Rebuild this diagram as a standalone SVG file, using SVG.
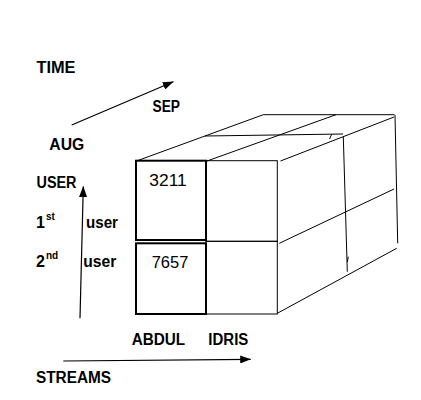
<svg xmlns="http://www.w3.org/2000/svg" width="421" height="400" viewBox="0 0 421 400">
<defs>
<marker id="ah" markerUnits="userSpaceOnUse" markerWidth="11" markerHeight="8" refX="10.5" refY="4" orient="auto">
<path d="M0,0 L11,4 L0,8 z" fill="#000"/>
</marker>
<style>
.lb{font-family:"Liberation Sans",Arial,sans-serif;font-weight:bold;font-size:16px;fill:#000}
.num{font-family:"Liberation Sans",Arial,sans-serif;font-size:16px;fill:#000}
.sup{font-size:10px}
.ln{stroke:#000;stroke-width:1;fill:none}
.bd{stroke:#000;stroke-width:2;fill:none}
.ax{stroke:#000;stroke-width:1.2;fill:none}
</style>
</defs>
<rect width="421" height="400" fill="#fff"/>
<g id="labels">
<text class="lb" x="36.5" y="73.3" textLength="39" lengthAdjust="spacingAndGlyphs">TIME</text>
<text class="lb" x="152.5" y="111.7" textLength="27.5" lengthAdjust="spacingAndGlyphs">SEP</text>
<text class="lb" x="49.3" y="150" textLength="35" lengthAdjust="spacingAndGlyphs">AUG</text>
<text class="lb" x="36.5" y="188.3" textLength="40" lengthAdjust="spacingAndGlyphs">USER</text>
<text class="lb" x="36" y="228.3">1</text>
<text class="lb sup" x="46" y="220">st</text>
<text class="lb" x="86" y="228.3" textLength="32" lengthAdjust="spacingAndGlyphs">user</text>
<text class="lb" x="36" y="266.7">2</text>
<text class="lb sup" x="46" y="258.5">nd</text>
<text class="lb" x="83.3" y="266.7" textLength="33" lengthAdjust="spacingAndGlyphs">user</text>
<text class="lb" x="131.7" y="345" textLength="53.5" lengthAdjust="spacingAndGlyphs">ABDUL</text>
<text class="lb" x="208.3" y="345" textLength="40" lengthAdjust="spacingAndGlyphs">IDRIS</text>
<text class="lb" x="36" y="383.3" textLength="75" lengthAdjust="spacingAndGlyphs">STREAMS</text>
</g>
<g id="connectors">
<line class="ax" x1="71.7" y1="125" x2="173.3" y2="81.7" marker-end="url(#ah)"/>
<line class="ax" x1="80" y1="318.3" x2="83.3" y2="186.5" marker-end="url(#ah)"/>
<line class="ax" x1="63.3" y1="361" x2="250.7" y2="359.3" marker-end="url(#ah)"/>
</g>
<g id="cube">
<line class="ln" x1="136.5" y1="161" x2="263.3" y2="114.7"/>
<line class="ln" x1="207" y1="161" x2="336" y2="114.7"/>
<line class="ln" x1="280.5" y1="161" x2="394" y2="117"/>
<line class="ln" x1="263.3" y1="114.7" x2="394.5" y2="114.7"/>
<line class="ln" x1="205" y1="136" x2="343" y2="134"/>
<line class="ln" x1="331.7" y1="134.3" x2="329.5" y2="139"/>
<line class="ln" x1="343.3" y1="136.7" x2="347.3" y2="271.7"/>
<line class="ln" x1="348.3" y1="256.7" x2="347.3" y2="262"/>
<line class="ln" x1="395" y1="115" x2="397.7" y2="243.3"/>
<line class="ln" x1="279.3" y1="243.3" x2="394" y2="189"/>
<line class="ln" x1="277.3" y1="313.3" x2="396.7" y2="248.3"/>
</g>
<g id="cell-top-right">
<rect class="ln" x="206" y="160.7" width="71.3" height="80.6"/>
</g>
<g id="cell-bottom-right">
<rect class="ln" x="206" y="241.3" width="71.3" height="72.7"/>
</g>
<g id="cell-3211">
<rect class="bd" x="136" y="160.7" width="70" height="79.3"/>
<text class="num" x="149.3" y="186" textLength="37.4" lengthAdjust="spacingAndGlyphs">3211</text>
</g>
<g id="cell-7657">
<rect class="bd" x="136" y="243.3" width="70" height="70.7"/>
<text class="num" x="151.7" y="268.3" textLength="36.6" lengthAdjust="spacingAndGlyphs">7657</text>
</g>
</svg>
